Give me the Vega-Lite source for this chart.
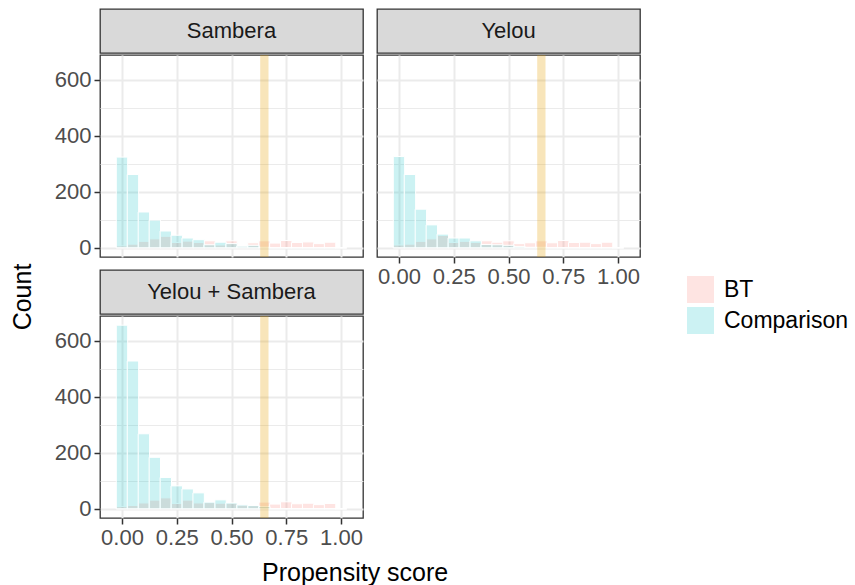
{
  "$schema": "https://vega.github.io/schema/vega-lite/v6.json",
  "padding": {"left": 10, "top": 8, "right": 5, "bottom": 0},
  "config": {
    "font": "Liberation Sans",
    "axis": {"labelFontSize": 22, "labelColor": "#4D4D4D", "labelFont": "Liberation Sans", "tickColor": "#333333", "tickSize": 6, "tickWidth": 1.5, "domain": false, "gridColor": "#EBEBEB", "labelPadding": 3},
    "title": {"font": "Liberation Sans", "fontWeight": "normal", "color": "black", "fontSize": 25}
  },
  "datasets": {
    "hist": [
      {"panel": "Sambera", "group": "BT", "score": 0.00, "count": 7},
      {"panel": "Sambera", "group": "BT", "score": 0.05, "count": 13},
      {"panel": "Sambera", "group": "BT", "score": 0.10, "count": 23},
      {"panel": "Sambera", "group": "BT", "score": 0.15, "count": 32},
      {"panel": "Sambera", "group": "BT", "score": 0.20, "count": 41},
      {"panel": "Sambera", "group": "BT", "score": 0.25, "count": 19},
      {"panel": "Sambera", "group": "BT", "score": 0.30, "count": 24},
      {"panel": "Sambera", "group": "BT", "score": 0.35, "count": 19},
      {"panel": "Sambera", "group": "BT", "score": 0.40, "count": 25},
      {"panel": "Sambera", "group": "BT", "score": 0.45, "count": 10},
      {"panel": "Sambera", "group": "BT", "score": 0.50, "count": 25},
      {"panel": "Sambera", "group": "BT", "score": 0.55, "count": 6},
      {"panel": "Sambera", "group": "BT", "score": 0.60, "count": 18},
      {"panel": "Sambera", "group": "BT", "score": 0.65, "count": 25},
      {"panel": "Sambera", "group": "BT", "score": 0.70, "count": 17},
      {"panel": "Sambera", "group": "BT", "score": 0.75, "count": 26},
      {"panel": "Sambera", "group": "BT", "score": 0.80, "count": 19},
      {"panel": "Sambera", "group": "BT", "score": 0.85, "count": 21},
      {"panel": "Sambera", "group": "BT", "score": 0.90, "count": 15},
      {"panel": "Sambera", "group": "BT", "score": 0.95, "count": 20},
      {"panel": "Sambera", "group": "BT", "score": 1.00, "count": 0},
      {"panel": "Sambera", "group": "Comparison", "score": 0.00, "count": 324},
      {"panel": "Sambera", "group": "Comparison", "score": 0.05, "count": 262},
      {"panel": "Sambera", "group": "Comparison", "score": 0.10, "count": 128},
      {"panel": "Sambera", "group": "Comparison", "score": 0.15, "count": 99},
      {"panel": "Sambera", "group": "Comparison", "score": 0.20, "count": 60},
      {"panel": "Sambera", "group": "Comparison", "score": 0.25, "count": 45},
      {"panel": "Sambera", "group": "Comparison", "score": 0.30, "count": 35},
      {"panel": "Sambera", "group": "Comparison", "score": 0.35, "count": 29},
      {"panel": "Sambera", "group": "Comparison", "score": 0.40, "count": 11},
      {"panel": "Sambera", "group": "Comparison", "score": 0.45, "count": 20},
      {"panel": "Sambera", "group": "Comparison", "score": 0.50, "count": 15},
      {"panel": "Sambera", "group": "Comparison", "score": 0.55, "count": 6},
      {"panel": "Sambera", "group": "Comparison", "score": 0.60, "count": 9},
      {"panel": "Sambera", "group": "Comparison", "score": 0.65, "count": 2},
      {"panel": "Sambera", "group": "Comparison", "score": 0.70, "count": 0},
      {"panel": "Sambera", "group": "Comparison", "score": 0.75, "count": 0},
      {"panel": "Sambera", "group": "Comparison", "score": 0.80, "count": 0},
      {"panel": "Sambera", "group": "Comparison", "score": 0.85, "count": 0},
      {"panel": "Sambera", "group": "Comparison", "score": 0.90, "count": 0},
      {"panel": "Sambera", "group": "Comparison", "score": 0.95, "count": 0},
      {"panel": "Sambera", "group": "Comparison", "score": 1.00, "count": 0},
      {"panel": "Yelou", "group": "BT", "score": 0.00, "count": 10},
      {"panel": "Yelou", "group": "BT", "score": 0.05, "count": 13},
      {"panel": "Yelou", "group": "BT", "score": 0.10, "count": 23},
      {"panel": "Yelou", "group": "BT", "score": 0.15, "count": 32},
      {"panel": "Yelou", "group": "BT", "score": 0.20, "count": 44},
      {"panel": "Yelou", "group": "BT", "score": 0.25, "count": 19},
      {"panel": "Yelou", "group": "BT", "score": 0.30, "count": 23},
      {"panel": "Yelou", "group": "BT", "score": 0.35, "count": 19},
      {"panel": "Yelou", "group": "BT", "score": 0.40, "count": 25},
      {"panel": "Yelou", "group": "BT", "score": 0.45, "count": 20},
      {"panel": "Yelou", "group": "BT", "score": 0.50, "count": 25},
      {"panel": "Yelou", "group": "BT", "score": 0.55, "count": 15},
      {"panel": "Yelou", "group": "BT", "score": 0.60, "count": 18},
      {"panel": "Yelou", "group": "BT", "score": 0.65, "count": 25},
      {"panel": "Yelou", "group": "BT", "score": 0.70, "count": 18},
      {"panel": "Yelou", "group": "BT", "score": 0.75, "count": 26},
      {"panel": "Yelou", "group": "BT", "score": 0.80, "count": 19},
      {"panel": "Yelou", "group": "BT", "score": 0.85, "count": 20},
      {"panel": "Yelou", "group": "BT", "score": 0.90, "count": 15},
      {"panel": "Yelou", "group": "BT", "score": 0.95, "count": 20},
      {"panel": "Yelou", "group": "BT", "score": 1.00, "count": 0},
      {"panel": "Yelou", "group": "Comparison", "score": 0.00, "count": 326},
      {"panel": "Yelou", "group": "Comparison", "score": 0.05, "count": 262},
      {"panel": "Yelou", "group": "Comparison", "score": 0.10, "count": 138},
      {"panel": "Yelou", "group": "Comparison", "score": 0.15, "count": 82},
      {"panel": "Yelou", "group": "Comparison", "score": 0.20, "count": 49},
      {"panel": "Yelou", "group": "Comparison", "score": 0.25, "count": 35},
      {"panel": "Yelou", "group": "Comparison", "score": 0.30, "count": 35},
      {"panel": "Yelou", "group": "Comparison", "score": 0.35, "count": 25},
      {"panel": "Yelou", "group": "Comparison", "score": 0.40, "count": 12},
      {"panel": "Yelou", "group": "Comparison", "score": 0.45, "count": 11},
      {"panel": "Yelou", "group": "Comparison", "score": 0.50, "count": 9},
      {"panel": "Yelou", "group": "Comparison", "score": 0.55, "count": 5},
      {"panel": "Yelou", "group": "Comparison", "score": 0.60, "count": 2},
      {"panel": "Yelou", "group": "Comparison", "score": 0.65, "count": 2},
      {"panel": "Yelou", "group": "Comparison", "score": 0.70, "count": 0},
      {"panel": "Yelou", "group": "Comparison", "score": 0.75, "count": 0},
      {"panel": "Yelou", "group": "Comparison", "score": 0.80, "count": 0},
      {"panel": "Yelou", "group": "Comparison", "score": 0.85, "count": 0},
      {"panel": "Yelou", "group": "Comparison", "score": 0.90, "count": 0},
      {"panel": "Yelou", "group": "Comparison", "score": 0.95, "count": 0},
      {"panel": "Yelou", "group": "Comparison", "score": 1.00, "count": 0},
      {"panel": "Yelou + Sambera", "group": "BT", "score": 0.00, "count": 8},
      {"panel": "Yelou + Sambera", "group": "BT", "score": 0.05, "count": 12},
      {"panel": "Yelou + Sambera", "group": "BT", "score": 0.10, "count": 21},
      {"panel": "Yelou + Sambera", "group": "BT", "score": 0.15, "count": 31},
      {"panel": "Yelou + Sambera", "group": "BT", "score": 0.20, "count": 39},
      {"panel": "Yelou + Sambera", "group": "BT", "score": 0.25, "count": 19},
      {"panel": "Yelou + Sambera", "group": "BT", "score": 0.30, "count": 31},
      {"panel": "Yelou + Sambera", "group": "BT", "score": 0.35, "count": 21},
      {"panel": "Yelou + Sambera", "group": "BT", "score": 0.40, "count": 22},
      {"panel": "Yelou + Sambera", "group": "BT", "score": 0.45, "count": 20},
      {"panel": "Yelou + Sambera", "group": "BT", "score": 0.50, "count": 20},
      {"panel": "Yelou + Sambera", "group": "BT", "score": 0.55, "count": 13},
      {"panel": "Yelou + Sambera", "group": "BT", "score": 0.60, "count": 11},
      {"panel": "Yelou + Sambera", "group": "BT", "score": 0.65, "count": 24},
      {"panel": "Yelou + Sambera", "group": "BT", "score": 0.70, "count": 17},
      {"panel": "Yelou + Sambera", "group": "BT", "score": 0.75, "count": 25},
      {"panel": "Yelou + Sambera", "group": "BT", "score": 0.80, "count": 18},
      {"panel": "Yelou + Sambera", "group": "BT", "score": 0.85, "count": 20},
      {"panel": "Yelou + Sambera", "group": "BT", "score": 0.90, "count": 15},
      {"panel": "Yelou + Sambera", "group": "BT", "score": 0.95, "count": 19},
      {"panel": "Yelou + Sambera", "group": "BT", "score": 1.00, "count": 0},
      {"panel": "Yelou + Sambera", "group": "Comparison", "score": 0.00, "count": 656},
      {"panel": "Yelou + Sambera", "group": "Comparison", "score": 0.05, "count": 528},
      {"panel": "Yelou + Sambera", "group": "Comparison", "score": 0.10, "count": 268},
      {"panel": "Yelou + Sambera", "group": "Comparison", "score": 0.15, "count": 184},
      {"panel": "Yelou + Sambera", "group": "Comparison", "score": 0.20, "count": 112},
      {"panel": "Yelou + Sambera", "group": "Comparison", "score": 0.25, "count": 82},
      {"panel": "Yelou + Sambera", "group": "Comparison", "score": 0.30, "count": 71},
      {"panel": "Yelou + Sambera", "group": "Comparison", "score": 0.35, "count": 57},
      {"panel": "Yelou + Sambera", "group": "Comparison", "score": 0.40, "count": 24},
      {"panel": "Yelou + Sambera", "group": "Comparison", "score": 0.45, "count": 32},
      {"panel": "Yelou + Sambera", "group": "Comparison", "score": 0.50, "count": 21},
      {"panel": "Yelou + Sambera", "group": "Comparison", "score": 0.55, "count": 14},
      {"panel": "Yelou + Sambera", "group": "Comparison", "score": 0.60, "count": 12},
      {"panel": "Yelou + Sambera", "group": "Comparison", "score": 0.65, "count": 8},
      {"panel": "Yelou + Sambera", "group": "Comparison", "score": 0.70, "count": 0},
      {"panel": "Yelou + Sambera", "group": "Comparison", "score": 0.75, "count": 0},
      {"panel": "Yelou + Sambera", "group": "Comparison", "score": 0.80, "count": 0},
      {"panel": "Yelou + Sambera", "group": "Comparison", "score": 0.85, "count": 0},
      {"panel": "Yelou + Sambera", "group": "Comparison", "score": 0.90, "count": 0},
      {"panel": "Yelou + Sambera", "group": "Comparison", "score": 0.95, "count": 0},
      {"panel": "Yelou + Sambera", "group": "Comparison", "score": 1.00, "count": 0}
    ],
    "cut": [{"lo": 0.631, "hi": 0.669}]
  },
  "title": {"text": "Count", "orient": "left", "anchor": "middle", "offset": 18},
  "resolve": {"scale": {"color": "shared"}, "legend": {"color": "shared"}},
  "hconcat": [
    {
      "title": {"text": "Propensity score", "orient": "bottom", "anchor": "middle", "offset": 12, "dx": 8},
      "spacing": 12,
      "resolve": {"scale": {"color": "shared", "x": "independent", "y": "independent"}, "legend": {"color": "shared"}},
      "hconcat": [
        {
          "spacing": 9,
          "resolve": {"scale": {"color": "shared", "x": "independent", "y": "independent"}, "legend": {"color": "shared"}},
          "vconcat": [
            {
              "spacing": 0,
              "resolve": {"scale": {"color": "shared", "x": "independent", "y": "independent"}, "legend": {"color": "shared"}},
              "vconcat": [
                {
                  "width": 263, "height": 44,
                  "view": {"fill": "#D9D9D9", "stroke": "#333333", "strokeWidth": 1.3},
                  "data": {"values": [{"label": "Sambera"}]},
                  "mark": {"type": "text", "fontSize": 22, "color": "#1A1A1A", "font": "Liberation Sans"},
                  "encoding": {"text": {"field": "label"}}
                },
                {
                  "width": 263, "height": 202,
                  "view": {"stroke": "#333333", "strokeWidth": 1.3},
                  "layer": [
                    {
                      "data": {"name": "hist"},
                      "transform": [{"filter": "datum.panel === 'Sambera'"}],
                      "mark": {"type": "bar", "width": 11.4, "fillOpacity": 0.2, "stroke": "white", "strokeWidth": 1, "strokeOpacity": 1},
                      "encoding": {
                        "x": {"field": "score", "type": "quantitative", "scale": {"domain": [-0.0775, 1.0775], "nice": false, "zero": false},
                          "axis": {"values": [0, 0.125, 0.25, 0.375, 0.5, 0.625, 0.75, 0.875, 1], "labels": false, "ticks": false, "grid": true, "title": null,
                            "gridWidth": {"condition": {"test": "datum.value * 4 % 1 === 0", "value": 2}, "value": 1}}},
                        "y": {"field": "count", "type": "quantitative", "scale": {"domain": [-32.8, 688.8], "nice": false, "zero": false},
                          "axis": {"values": [0, 100, 200, 300, 400, 500, 600], "format": "d", "title": null, "grid": true,
                            "labelExpr": "datum.value % 200 === 0 ? datum.label : ''",
                            "tickOpacity": {"condition": {"test": "datum.value % 200 === 0", "value": 1}, "value": 0},
                            "gridWidth": {"condition": {"test": "datum.value % 200 === 0", "value": 2}, "value": 1}}},
                        "y2": {"datum": 0},
                        "color": {"field": "group", "type": "nominal", "scale": {"domain": ["BT", "Comparison"], "range": ["#F8766D", "#00BFC4"]},
                          "legend": {"orient": "none", "legendX": 587, "legendY": 267, "title": null, "symbolType": "square", "symbolSize": 729, "symbolStrokeWidth": 0, "symbolOpacity": 0.2, "labelFontSize": 23, "labelColor": "black", "labelFont": "Liberation Sans", "rowPadding": 4, "labelOffset": 10}}
                      }
                    },
                    {
                      "data": {"name": "cut"},
                      "mark": {"type": "rect", "color": "#E69F00", "opacity": 0.27},
                      "encoding": {"x": {"field": "lo", "type": "quantitative"}, "x2": {"field": "hi"}}
                    }
                  ]
                }
              ]
            },
            {
              "spacing": 0,
              "resolve": {"scale": {"color": "shared", "x": "independent", "y": "independent"}, "legend": {"color": "shared"}},
              "vconcat": [
                {
                  "width": 263, "height": 44,
                  "view": {"fill": "#D9D9D9", "stroke": "#333333", "strokeWidth": 1.3},
                  "data": {"values": [{"label": "Yelou + Sambera"}]},
                  "mark": {"type": "text", "fontSize": 22, "color": "#1A1A1A", "font": "Liberation Sans"},
                  "encoding": {"text": {"field": "label"}}
                },
                {
                  "width": 263, "height": 202,
                  "view": {"stroke": "#333333", "strokeWidth": 1.3},
                  "layer": [
                    {
                      "data": {"name": "hist"},
                      "transform": [{"filter": "datum.panel === 'Yelou + Sambera'"}],
                      "mark": {"type": "bar", "width": 11.4, "fillOpacity": 0.2, "stroke": "white", "strokeWidth": 1, "strokeOpacity": 1},
                      "encoding": {
                        "x": {"field": "score", "type": "quantitative", "scale": {"domain": [-0.0775, 1.0775], "nice": false, "zero": false},
                          "axis": {"values": [0, 0.125, 0.25, 0.375, 0.5, 0.625, 0.75, 0.875, 1], "format": ".2f", "title": null, "grid": true,
                            "labelExpr": "datum.value * 4 % 1 === 0 ? datum.label : ''",
                            "tickOpacity": {"condition": {"test": "datum.value * 4 % 1 === 0", "value": 1}, "value": 0},
                            "gridWidth": {"condition": {"test": "datum.value * 4 % 1 === 0", "value": 2}, "value": 1}}},
                        "y": {"field": "count", "type": "quantitative", "scale": {"domain": [-32.8, 688.8], "nice": false, "zero": false},
                          "axis": {"values": [0, 100, 200, 300, 400, 500, 600], "format": "d", "title": null, "grid": true,
                            "labelExpr": "datum.value % 200 === 0 ? datum.label : ''",
                            "tickOpacity": {"condition": {"test": "datum.value % 200 === 0", "value": 1}, "value": 0},
                            "gridWidth": {"condition": {"test": "datum.value % 200 === 0", "value": 2}, "value": 1}}},
                        "y2": {"datum": 0},
                        "color": {"field": "group", "type": "nominal", "scale": {"domain": ["BT", "Comparison"], "range": ["#F8766D", "#00BFC4"]},
                          "legend": {"orient": "none", "legendX": 587, "legendY": 267, "title": null, "symbolType": "square", "symbolSize": 729, "symbolStrokeWidth": 0, "symbolOpacity": 0.2, "labelFontSize": 23, "labelColor": "black", "labelFont": "Liberation Sans", "rowPadding": 4, "labelOffset": 10}}
                      }
                    },
                    {
                      "data": {"name": "cut"},
                      "mark": {"type": "rect", "color": "#E69F00", "opacity": 0.27},
                      "encoding": {"x": {"field": "lo", "type": "quantitative"}, "x2": {"field": "hi"}}
                    }
                  ]
                }
              ]
            }
          ]
        },
        {
          "spacing": 0,
          "resolve": {"scale": {"color": "shared", "x": "independent", "y": "independent"}, "legend": {"color": "shared"}},
          "vconcat": [
            {
              "width": 263, "height": 44,
              "view": {"fill": "#D9D9D9", "stroke": "#333333", "strokeWidth": 1.3},
              "data": {"values": [{"label": "Yelou"}]},
              "mark": {"type": "text", "fontSize": 22, "color": "#1A1A1A", "font": "Liberation Sans"},
              "encoding": {"text": {"field": "label"}}
            },
            {
              "width": 263, "height": 202,
              "view": {"stroke": "#333333", "strokeWidth": 1.3},
              "layer": [
                {
                  "data": {"name": "hist"},
                  "transform": [{"filter": "datum.panel === 'Yelou'"}],
                  "mark": {"type": "bar", "width": 11.4, "fillOpacity": 0.2, "stroke": "white", "strokeWidth": 1, "strokeOpacity": 1},
                  "encoding": {
                    "x": {"field": "score", "type": "quantitative", "scale": {"domain": [-0.0775, 1.0775], "nice": false, "zero": false},
                      "axis": {"values": [0, 0.125, 0.25, 0.375, 0.5, 0.625, 0.75, 0.875, 1], "format": ".2f", "title": null, "grid": true,
                        "labelExpr": "datum.value * 4 % 1 === 0 ? datum.label : ''",
                        "tickOpacity": {"condition": {"test": "datum.value * 4 % 1 === 0", "value": 1}, "value": 0},
                        "gridWidth": {"condition": {"test": "datum.value * 4 % 1 === 0", "value": 2}, "value": 1}}},
                    "y": {"field": "count", "type": "quantitative", "scale": {"domain": [-32.8, 688.8], "nice": false, "zero": false},
                      "axis": {"values": [0, 100, 200, 300, 400, 500, 600], "labels": false, "ticks": false, "title": null, "grid": true,
                        "gridWidth": {"condition": {"test": "datum.value % 200 === 0", "value": 2}, "value": 1}}},
                    "y2": {"datum": 0},
                    "color": {"field": "group", "type": "nominal", "scale": {"domain": ["BT", "Comparison"], "range": ["#F8766D", "#00BFC4"]},
                      "legend": {"orient": "none", "legendX": 587, "legendY": 267, "title": null, "symbolType": "square", "symbolSize": 729, "symbolStrokeWidth": 0, "symbolOpacity": 0.2, "labelFontSize": 23, "labelColor": "black", "labelFont": "Liberation Sans", "rowPadding": 4, "labelOffset": 10}}
                  }
                },
                {
                  "data": {"name": "cut"},
                  "mark": {"type": "rect", "color": "#E69F00", "opacity": 0.27},
                  "encoding": {"x": {"field": "lo", "type": "quantitative"}, "x2": {"field": "hi"}}
                }
              ]
            }
          ]
        }
      ]
    }
  ]
}
